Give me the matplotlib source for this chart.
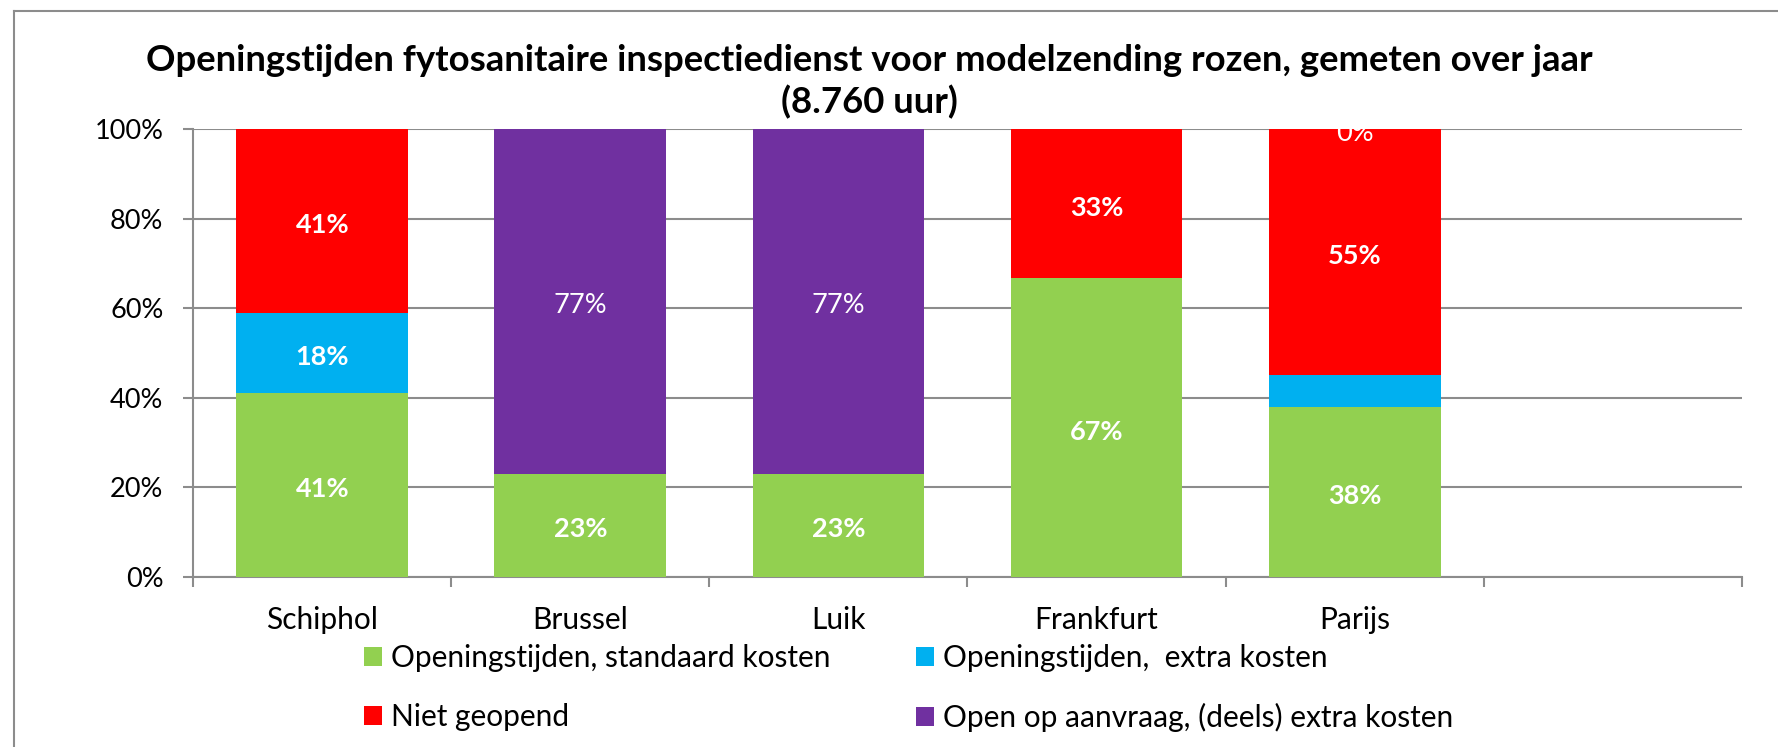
import numpy as np
import matplotlib
matplotlib.use('Agg')
from matplotlib import pyplot as plt
from matplotlib.lines import Line2D

plt.rcParams['font.family'] = ['Lato', 'DejaVu Sans']

# data (fractions of the 8.760 hours in a year)
luchthavens = ['Schiphol', 'Brussel', 'Luik', 'Frankfurt', 'Parijs']
standaard = [0.41, 0.23, 0.23, 0.667, 0.38]
extra = [0.18, 0.0, 0.0, 0.0, 0.071]
niet_open = [0.41, 0.0, 0.0, 0.333, 0.549]
op_aanvraag = [0.0, 0.77, 0.77, 0.0, 0.0]

# data labels shown in the chart ('' = no label)
lbl_standaard = ['41%', '23%', '23%', '67%', '38%']
lbl_extra = ['18%', '', '', '', '']
lbl_niet_open = ['41%', '', '', '33%', '55%']
lbl_op_aanvraag = ['', '77%', '77%', '', '0%']

series_names = ['Openingstijden, standaard kosten', 'Openingstijden,  extra kosten',
                'Niet geopend', 'Open op aanvraag, (deels) extra kosten']
kleuren = ['#92D050', '#00B0F0', '#FF0000', '#7030A0']

n_slots = 6  # excel left an empty category at the end
grijs = '#8C8C8C'

fig = plt.figure(figsize=(17.78, 7.47), dpi=100)
ax = fig.add_axes([0.1087, 0.2280, 0.8709, 0.5993])

x = np.arange(len(luchthavens)) + 0.5
waarden = [standaard, extra, niet_open, op_aanvraag]
labels = [lbl_standaard, lbl_extra, lbl_niet_open, lbl_op_aanvraag]
bottom = np.zeros(len(luchthavens))
containers = []
for i in range(4):
    bc = ax.bar(x, waarden[i], 0.666, bottom=bottom, color=kleuren[i],
                label=series_names[i], zorder=3)
    containers.append(bc)
    weight = 'normal' if i == 3 else 'bold'
    txts = ax.bar_label(bc, labels=labels[i], label_type='center', color='white',
                        fontsize=19.5, fontweight=weight, clip_on=True)
    for t in txts:
        t.xyann = (0, -3)
    bottom += np.array(waarden[i])

ax.set_xlim(0, n_slots)
ax.set_ylim(0, 1)
ax.set_yticks(np.arange(0, 1.01, 0.2))
ax.set_yticklabels(['{:.0f}%'.format(v * 100) for v in np.arange(0, 1.01, 0.2)])
ax.set_xticks(np.arange(0, n_slots + 1))
ax.set_xticklabels([])
ax.set_xticks(x, minor=True)
ax.set_xticklabels(luchthavens, minor=True)
ax.tick_params(axis='x', which='minor', length=0, pad=21, labelsize=21.5)
ax.tick_params(axis='x', which='major', length=7.5, width=1.5, color=grijs)
ax.tick_params(axis='y', length=7.5, width=1.5, color=grijs, pad=14, labelsize=19.5)
ax.yaxis.grid(True, color=grijs, linewidth=1.5, zorder=0)
ax.set_axisbelow(True)
for s in ['top', 'right']:
    ax.spines[s].set_visible(False)
for s in ['left', 'bottom']:
    ax.spines[s].set_color(grijs)
    ax.spines[s].set_linewidth(1.5)

fig.text(0.489, 0.891, 'Openingstijden fytosanitaire inspectiedienst voor modelzending rozen, gemeten over jaar\n(8.760 uur)',
         ha='center', va='center', fontsize=26.3, fontweight='bold', linespacing=1.26)

handles = [containers[0], containers[2], containers[1], containers[3]]
names = [series_names[0], series_names[2], series_names[1], series_names[3]]
fig.legend(handles, names, ncol=2, loc='upper left', bbox_to_anchor=(0.205, 0.138),
           frameon=False, fontsize=21.5, handlelength=0.6, handleheight=0.6,
           handletextpad=0.3, labelspacing=1.05, columnspacing=2.85, borderpad=0,
           borderaxespad=0)

# outer chart border, only left and top are inside the picture
x0, y0 = 14 / 1778, 1 - 11 / 747
fig.add_artist(Line2D([x0, x0], [0, y0], transform=fig.transFigure, color=grijs, linewidth=1.5))
fig.add_artist(Line2D([x0, 1], [y0, y0], transform=fig.transFigure, color=grijs, linewidth=1.5))

fig.savefig('out.png', dpi=100)
